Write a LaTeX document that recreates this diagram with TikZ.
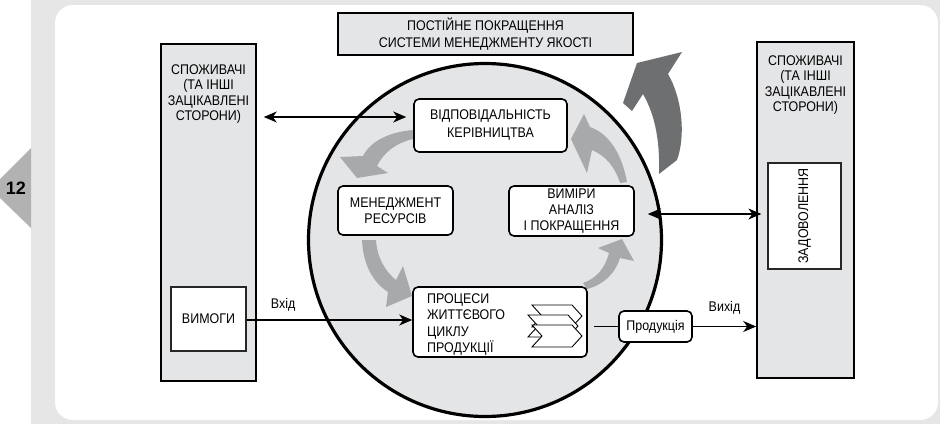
\documentclass[tikz,border=0pt]{standalone}
\usepackage{fontspec}
\setmainfont{Liberation Sans}[FakeStretch=0.89]
\newfontfamily\tabfont{Liberation Sans}
\usetikzlibrary{arrows.meta}

\definecolor{bggray}{HTML}{E6E6E6}
\definecolor{boxgray}{HTML}{E4E5E7}
\definecolor{tabgray}{HTML}{B2B2B2}
\definecolor{cyclegray}{HTML}{A8A9AB}
\definecolor{improvegray}{HTML}{6E6F71}

\tikzset{
  custbox/.style={draw=black, line width=1.6pt, fill=boxgray, inner sep=0pt},
  plainbox/.style={draw=black!85, line width=1.3pt, fill=white, inner sep=0pt},
  stagebox/.style={draw=black, line width=1.6pt, fill=white, rounded corners=5pt, inner sep=0pt},
  flow/.style={line width=1.1pt, -{Stealth[length=13pt,width=11pt,inset=4pt]}},
  twoway/.style={line width=1.1pt, {Stealth[length=13pt,width=11pt,inset=4pt]}-{Stealth[length=13pt,width=11pt,inset=4pt]}},
  txt/.style={align=center, inner sep=0pt, font=\fontsize{14}{#1}\selectfont},
  txt/.default=15.5
}

\begin{document}
\begin{tikzpicture}[x=1pt,y=-1pt]
  \useasboundingbox (0,0) rectangle (940,424);
  % page frame
  \fill[bggray] (31,0) rectangle (940,424);
  \fill[white, rounded corners=18pt] (55,5) rectangle (938,420);
  \fill[tabgray] (31,148) -- (0,179) -- (0,198) -- (31,228) -- cycle;
  \node[font=\tabfont\bfseries\fontsize{18}{18}\selectfont] (page) at (16,188) {12};

  % system circle
  \node[circle, draw=black, line width=3.2pt, fill=boxgray, minimum size=353pt, inner sep=0pt] (qms) at (485,240) {};

  % cycle arrows
  \fill[cyclegray] (413,130) .. controls (388,132) and (370,142) .. (363,156) -- (340,157) -- (357,178)
    -- (388,173) -- (377,166) .. controls (384,152) and (396,143) .. (413,139) -- cycle;
  \fill[cyclegray] (362,240) .. controls (363,262) and (371,281) .. (388,292) -- (386,307) -- (412,296)
    -- (403,266) -- (396,280) .. controls (386,272) and (377,258) .. (376,240) -- cycle;
  \fill[cyclegray] (587,289) .. controls (603,285) and (615,274) .. (620,258) -- (634,261) -- (622,239)
    -- (598,248) -- (609,253) .. controls (605,268) and (597,278) .. (583,283) -- cycle;
  \fill[cyclegray] (627,182) .. controls (622,155) and (610,134) .. (590,127) -- (584,114) -- (571,139)
    -- (587,173) -- (592,150) .. controls (606,156) and (615,167) .. (620,183) -- cycle;
  % improvement arrow
  \fill[improvegray] (659,174) .. controls (660,140) and (655,115) .. (643,94) -- (632,111) -- (623,103)
    -- (637,63) -- (682,52) -- (668,74) .. controls (682,98) and (686,135) .. (677,160) -- cycle;

  % top box
  \node[custbox, line width=1.4pt, minimum width=295pt, minimum height=42pt] (improve) at (485.5,34) {};
  \node[txt=17] (improvetxt) at (485.5,34.5) {ПОСТІЙНЕ ПОКРАЩЕННЯ\\СИСТЕМИ МЕНЕДЖМЕНТУ ЯКОСТІ};

  % customers, left
  \node[custbox, minimum width=95pt, minimum height=337pt] (custL) at (208.5,212.5) {};
  \node[txt] (custLtxt) at (208.5,94) {СПОЖИВАЧІ\\(ТА ІНШІ\\ЗАЦІКАВЛЕНІ\\СТОРОНИ)};
  \node[plainbox, minimum width=75pt, minimum height=64pt, txt] (req) at (208.5,319) {ВИМОГИ};

  % customers, right
  \node[custbox, minimum width=97pt, minimum height=336pt] (custR) at (805.5,210) {};
  \node[txt] (custRtxt) at (805.5,85) {СПОЖИВАЧІ\\(ТА ІНШІ\\ЗАЦІКАВЛЕНІ\\СТОРОНИ)};
  \node[plainbox, minimum width=73pt, minimum height=106pt] (sat) at (804.5,216) {};
  \node[txt, rotate=90] (sattxt) at (sat) {ЗАДОВОЛЕННЯ};

  % stages
  \node[stagebox, minimum width=153pt, minimum height=53pt, txt=18] (resp) at (490.5,125.5) {ВІДПОВІДАЛЬНІСТЬ\\КЕРІВНИЦТВА};
  \node[stagebox, minimum width=115pt, minimum height=49pt, txt=16] (res) at (395.5,210.5) {МЕНЕДЖМЕНТ\\РЕСУРСІВ};
  \node[stagebox, minimum width=125pt, minimum height=50pt, txt=16] (meas) at (571.5,211) {ВИМІРИ\\АНАЛІЗ\\І ПОКРАЩЕННЯ};
  \node[stagebox, minimum width=174pt, minimum height=70pt] (proc) at (500,322) {};
  \node[txt=16.3, align=left, anchor=west] (proctxt) at (427,324.5) {ПРОЦЕСИ\\ЖИТТЄВОГО\\ЦИКЛУ\\ПРОДУКЦІЇ};
  \foreach \cx/\cy in {532/305, 528/315, 532/325}
    \draw[line width=0.9pt, fill=white, line join=miter]
      (\cx,\cy) -- ++(40,0) -- ++(10,11) -- ++(-10,11) -- ++(-40,0) -- ++(10,-11) -- cycle;
  \node[stagebox, minimum width=73pt, minimum height=31pt, txt] (prod) at (655.5,326.5) {Продукція};

  % connectors
  \draw[twoway, shorten <=7pt, shorten >=7pt] (custL.east |- 0,117) -- (resp.west |- 0,117);
  \draw[twoway, shorten <=13pt, shorten >=6pt] (meas.east |- 0,214) -- (sat.west |- 0,214);
  \draw[flow] (req.east |- 0,320) -- (proc.west |- 0,320) node[pos=0.22, above=8pt, txt] (in) {Вхід};
  \draw[line width=1.1pt, shorten <=6pt] (proc.east |- prod.west) -- (prod.west);
  \draw[flow] (prod.east) -- (custR.west |- prod.east) node[midway, above=12pt, txt] (out) {Вихід};
\end{tikzpicture}
\end{document}
